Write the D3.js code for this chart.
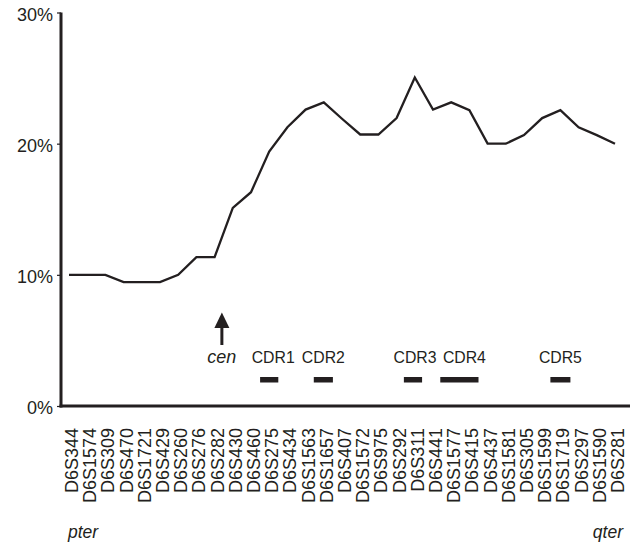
<!DOCTYPE html>
<html><head><meta charset="utf-8">
<script src="https://cdn.jsdelivr.net/npm/d3@7"></script>
<style>body{margin:0;background:#fff}svg{display:block}text{font-family:"Liberation Sans",Arial,sans-serif;fill:#231f20}</style>
</head><body>
<script>
const markers = ["D6S344","D6S1574","D6S309","D6S470","D6S1721","D6S429","D6S260","D6S276","D6S282","D6S430","D6S460","D6S275","D6S434","D6S1563","D6S1657","D6S407","D6S1572","D6S975","D6S292","D6S311","D6S441","D6S1577","D6S415","D6S437","D6S1581","D6S305","D6S1599","D6S1719","D6S297","D6S1590","D6S281"];
const frequency = [10,10,10,9.45,9.45,9.45,10,11.35,11.35,15.1,16.3,19.4,21.25,22.6,23.15,21.9,20.7,20.7,21.95,25.05,22.6,23.15,22.55,20,20,20.65,21.95,22.55,21.25,20.65,20];
const yTicks = [0,10,20,30];
const cdrNames = ["CDR1","CDR2","CDR3","CDR4","CDR5"];
const cdrStart = [10.5,13.45,18.4,20.4,26.45];
const cdrEnd = [11.5,14.5,19.4,22.5,27.55];
const centromere = 8.4;

const W=638,H=544;
const svg=d3.select("body").append("svg").attr("width",W).attr("height",H);
const ink="#231f20";
const x=d3.scaleLinear().domain([0,markers.length-1]).range([69,615]);
const y=d3.scaleLinear().domain([0,30]).range([406,12.5]);

// y axis
const yAxis=d3.axisLeft(y).tickValues(yTicks).tickFormat(d=>d+"%").tickSize(4).tickPadding(4);
const ga=svg.append("g").attr("transform","translate(61,0)").call(yAxis);
ga.select(".domain").remove();
ga.selectAll(".tick line").attr("stroke",ink).attr("stroke-width",1.2);
ga.selectAll(".tick text").attr("font-size",18).attr("fill",ink).attr("dy","0.42em").attr("font-family","Liberation Sans, Arial, sans-serif");
svg.append("line").attr("x1",61).attr("x2",61).attr("y1",y(30)).attr("y2",y(0)+1.5).attr("stroke",ink).attr("stroke-width",3);
// baseline
svg.append("line").attr("x1",59.5).attr("x2",630).attr("y1",y(0)).attr("y2",y(0)).attr("stroke",ink).attr("stroke-width",3);

// x labels
const xAxis=d3.axisBottom(x).tickValues(d3.range(markers.length)).tickFormat(i=>markers[i]).tickSize(0);
const gx=svg.append("g").attr("transform","translate(2,"+y(0)+")").call(xAxis);
gx.select(".domain").remove();
gx.selectAll(".tick text").attr("font-size",18).attr("fill",ink).attr("font-family","Liberation Sans, Arial, sans-serif")
  .attr("text-anchor","end").attr("transform","translate(0,22) rotate(-90)").attr("x",0).attr("y",0).attr("dy","0.36em");

// line
svg.append("path").datum(frequency)
  .attr("d",d3.line().x((d,i)=>x(i)).y(d=>y(d)))
  .attr("fill","none").attr("stroke",ink).attr("stroke-width",2.3).attr("stroke-linejoin","miter");

// CDR bars
svg.selectAll("rect.cdr").data(cdrNames).join("rect").attr("class","cdr")
  .attr("x",(d,i)=>x(cdrStart[i])).attr("width",(d,i)=>x(cdrEnd[i])-x(cdrStart[i]))
  .attr("y",377).attr("height",5.5).attr("fill",ink);
svg.selectAll("text.cdr").data(cdrNames).join("text").attr("class","cdr")
  .attr("x",(d,i)=>x((cdrStart[i]+cdrEnd[i])/2)+([4,0,2,5,0][i]))
  .attr("y",363).attr("text-anchor","middle").attr("font-size",15.8).text(d=>d);

// centromere arrow
const cx=x(centromere);
svg.append("line").attr("x1",cx).attr("x2",cx).attr("y1",326).attr("y2",345).attr("stroke",ink).attr("stroke-width",3);
svg.append("path").attr("d",`M${cx},312.5 L${cx+7.5},328 L${cx-7.5},328 Z`).attr("fill",ink);
svg.append("text").attr("x",cx).attr("y",363).attr("text-anchor","middle").attr("font-size",18).attr("font-style","italic").text("cen");

svg.append("text").attr("x",68).attr("y",538).attr("font-size",17.5).attr("font-style","italic").text("pter");
svg.append("text").attr("x",623).attr("y",538).attr("text-anchor","end").attr("font-size",17.5).attr("font-style","italic").text("qter");
</script>
</body></html>
